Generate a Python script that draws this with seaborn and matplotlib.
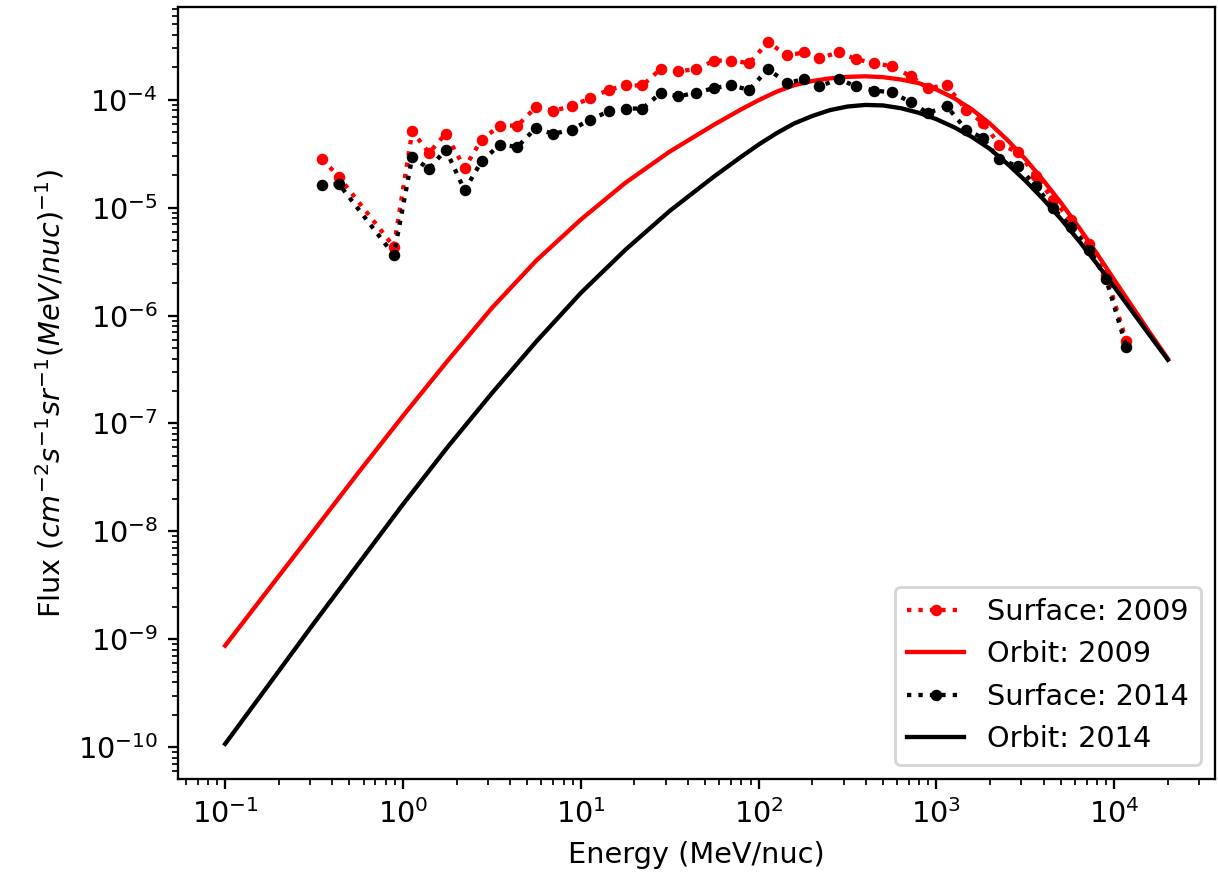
import numpy as np
import matplotlib
matplotlib.use("Agg")
import matplotlib.pyplot as plt
import seaborn as sns

# ---- Surface data ----
surface_energy = [0.351, 0.436, 0.889, 1.128, 1.40, 1.74, 2.22, 2.77, 3.51, 4.40,
                  5.58, 6.98, 8.90, 11.3, 14.4, 17.9, 22.2, 28.2, 35.4, 44.7,
                  56.3, 69.8, 88.5, 113, 144, 181, 219, 282, 353, 448,
                  563, 719, 892, 1140, 1468, 1820, 2259, 2864, 3631, 4508,
                  5715, 7244, 8995, 11670]
surface_2009 = [2.83e-5, 1.93e-5, 4.35e-6, 5.12e-5, 3.22e-5, 4.86e-5, 2.34e-5, 4.28e-5, 5.77e-5, 5.77e-5,
                8.53e-5, 7.94e-5, 8.71e-5, 1.04e-4, 1.24e-4, 1.36e-4, 1.36e-4, 1.94e-4, 1.84e-4, 1.93e-4,
                2.31e-4, 2.31e-4, 2.19e-4, 3.43e-4, 2.58e-4, 2.75e-4, 2.44e-4, 2.75e-4, 2.38e-4, 2.19e-4,
                2.04e-4, 1.65e-4, 1.29e-4, 1.36e-4, 8.11e-5, 6.10e-5, 3.85e-5, 3.29e-5, 1.96e-5, 1.19e-5,
                7.64e-6, 4.63e-6, 2.38e-6, 5.83e-7]
surface_2014 = [1.64e-5, 1.66e-5, 3.65e-6, 2.96e-5, 2.29e-5, 3.46e-5, 1.45e-5, 2.70e-5, 3.85e-5, 3.66e-5,
                5.48e-5, 4.83e-5, 5.30e-5, 6.56e-5, 7.83e-5, 8.30e-5, 8.30e-5, 1.16e-4, 1.08e-4, 1.16e-4,
                1.29e-4, 1.36e-4, 1.24e-4, 1.93e-4, 1.43e-4, 1.56e-4, 1.33e-4, 1.56e-4, 1.33e-4, 1.22e-4,
                1.17e-4, 9.48e-5, 7.55e-5, 8.71e-5, 5.30e-5, 4.43e-5, 2.80e-5, 2.43e-5, 1.58e-5, 9.98e-6,
                6.62e-6, 4.06e-6, 2.17e-6, 5.16e-7]

# ---- Orbit model curves ----
orbit_energy = [0.1, 0.178, 0.316, 0.562, 1.0, 1.78, 3.16, 5.62, 10.0, 17.8,
                31.6, 56.2, 79.4, 100, 126, 158, 200, 251, 316, 398,
                501, 631, 794, 1000, 1259, 1585, 1995, 2512, 3162, 3981,
                5012, 6310, 7943, 10000, 12590, 15850, 20000]
orbit_2009 = [8.71e-10, 2.99e-9, 1.02e-8, 3.51e-8, 1.175e-7, 3.80e-7, 1.175e-6, 3.24e-6, 7.76e-6, 1.70e-5,
              3.31e-5, 5.89e-5, 8.13e-5, 9.93e-5, 1.189e-4, 1.365e-4, 1.493e-4, 1.581e-4, 1.633e-4, 1.652e-4,
              1.622e-4, 1.542e-4, 1.429e-4, 1.245e-4, 1.035e-4, 8.13e-5, 6.03e-5, 4.22e-5, 2.82e-5, 1.80e-5,
              1.109e-5, 6.61e-6, 3.80e-6, 2.14e-6, 1.216e-6, 6.92e-7, 3.98e-7]
orbit_2014 = [1.07e-10, 3.89e-10, 1.41e-9, 5.01e-9, 1.78e-8, 6.03e-8, 1.905e-7, 5.75e-7, 1.62e-6, 4.07e-6,
              9.33e-6, 1.95e-5, 2.95e-5, 3.85e-5, 4.90e-5, 6.03e-5, 7.08e-5, 8.02e-5, 8.67e-5, 8.97e-5,
              8.87e-5, 8.36e-5, 7.59e-5, 6.61e-5, 5.56e-5, 4.52e-5, 3.51e-5, 2.54e-5, 1.778e-5, 1.202e-5,
              7.85e-6, 4.95e-6, 3.05e-6, 1.84e-6, 1.096e-6, 6.53e-7, 3.89e-7]

DPI = 207
fig = plt.figure(figsize=(1218 / DPI, 878 / DPI), dpi=DPI)
ax = fig.add_axes([178 / 1218, (878 - 779) / 878, 1037 / 1218, 772 / 878])
ax.set_xscale("log")
ax.set_yscale("log")

common = dict(ax=ax, sort=False, estimator=None)
sns.lineplot(x=surface_energy, y=surface_2009, color="red", linestyle=":", marker=".",
             markersize=6, markeredgecolor="red", markeredgewidth=1.0, linewidth=1.5,
             label="Surface: 2009", **common)
sns.lineplot(x=orbit_energy, y=orbit_2009, color="red", linewidth=1.5,
             label="Orbit: 2009", **common)
sns.lineplot(x=surface_energy, y=surface_2014, color="black", linestyle=":", marker=".",
             markersize=6, markeredgecolor="black", markeredgewidth=1.0, linewidth=1.5,
             label="Surface: 2014", **common)
sns.lineplot(x=orbit_energy, y=orbit_2014, color="black", linewidth=1.5,
             label="Orbit: 2014", **common)

ax.set_xlabel("Energy (MeV/nuc)")
ax.set_ylabel(r"Flux ($cm^{-2}s^{-1}sr^{-1}(MeV/nuc)^{-1}$)")
ax.legend(loc="lower right")

fig.savefig("out.png", dpi=DPI)
